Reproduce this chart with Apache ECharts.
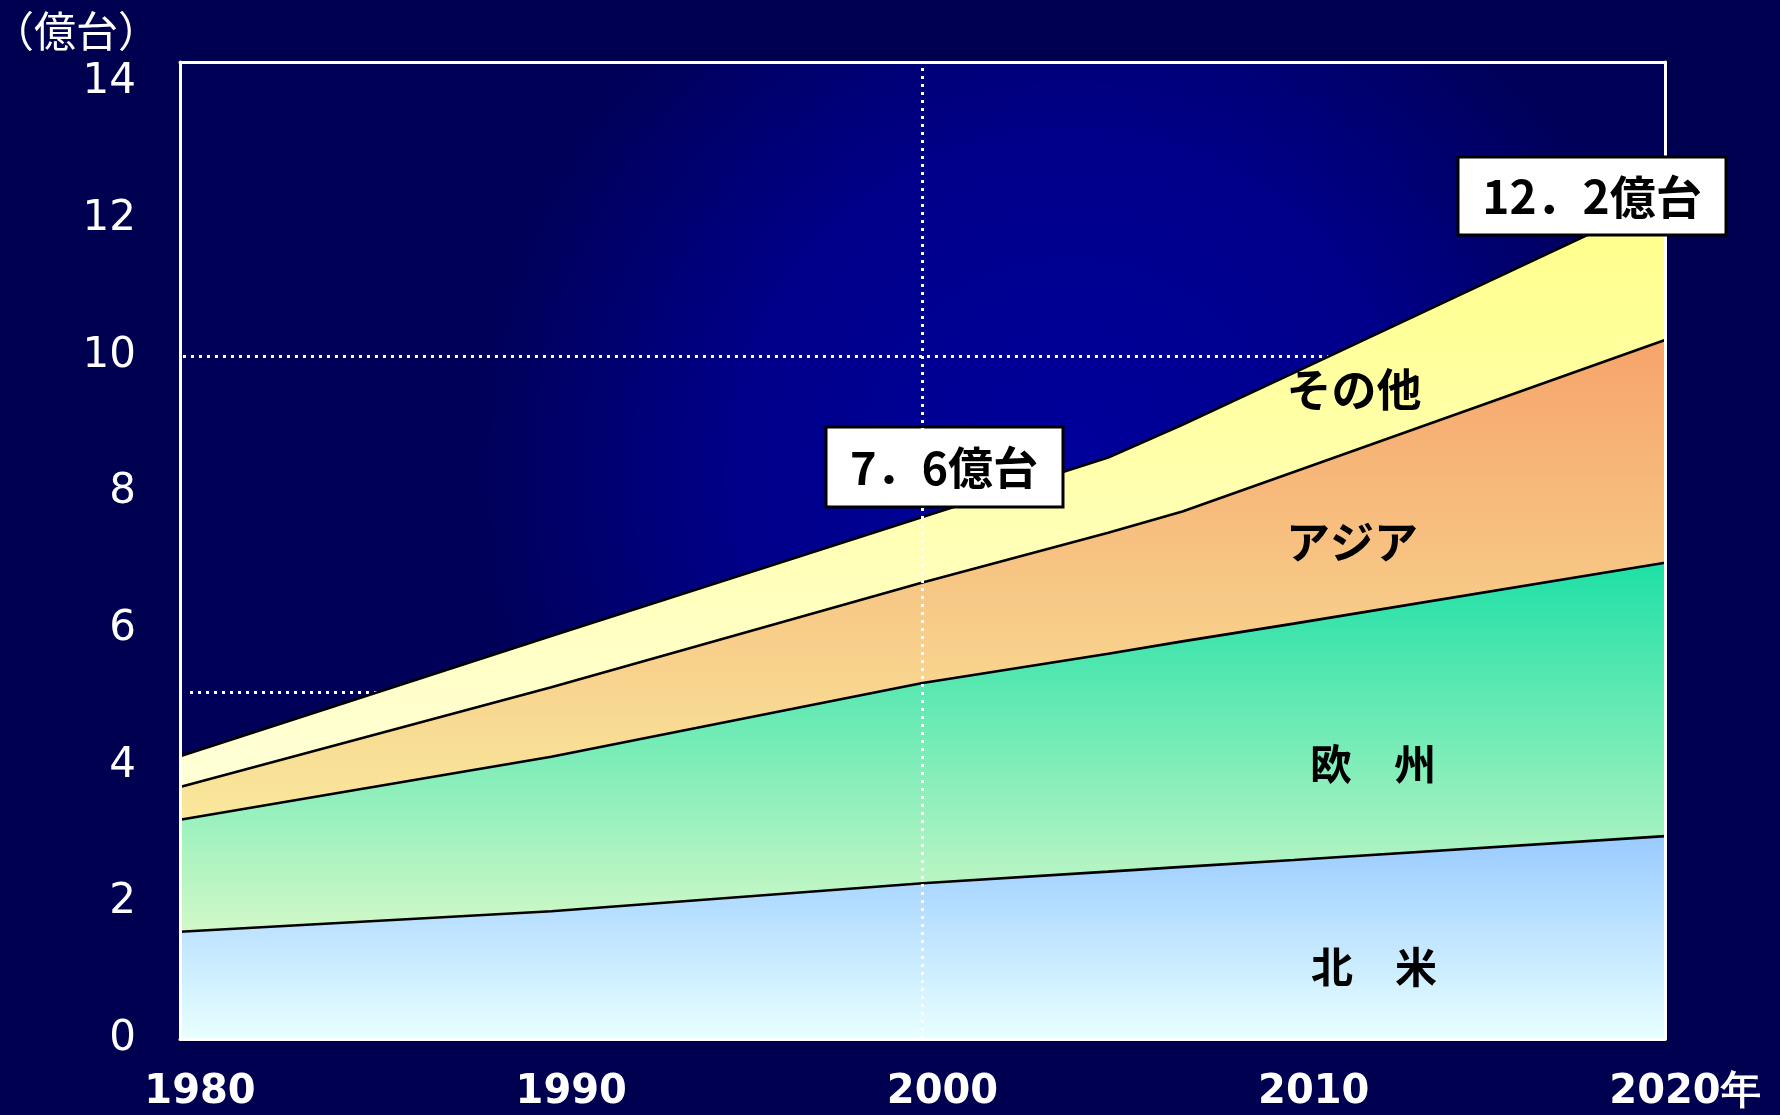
<!DOCTYPE html>
<html>
<head>
<meta charset="utf-8">
<style>
html,body{margin:0;padding:0;background:#000050;}
#chart{width:1780px;height:1115px;}
</style>
<script src="https://cdn.jsdelivr.net/npm/echarts@6/dist/echarts.min.js"></script>
</head>
<body>
<div id="chart"></div>
<script>
// ---- data (億台) ----
const years = [1980, 1990, 2000, 2005, 2007, 2010, 2020];
const northAmerica = [1.57, 1.87, 2.28, 2.45, 2.52, 2.62, 2.97];
const europe       = [1.64, 2.26, 2.93, 3.19, 3.30, 3.46, 4.00];
const asia         = [0.48, 1.02, 1.47, 1.77, 1.90, 2.22, 3.26];
const others       = [0.45, 0.75, 0.96, 1.10, 1.27, 1.45, 2.07];
const seriesNames  = ['北　米', '欧　州', 'アジア', 'その他'];
const refLevels = [10, 5.07];
const refYear = 2000;
const unitLabel = '（億台）';
const callouts = ['7．6億台', '12．2億台'];

const chart = echarts.init(document.getElementById('chart'));

// cumulative (stacked) totals built from the regional values
const regional = [northAmerica, europe, asia, others];
const cumulative = [];
regional.forEach((vals, k) => {
  cumulative.push(vals.map((v, i) => +(v + (k ? cumulative[k - 1][i] : 0)).toFixed(3)));
});
function pairs(vals) { return years.map((y, i) => [y, vals[i]]); }

function grad(top, bottom, stop) {
  return new echarts.graphic.LinearGradient(0, 0, 0, 1, [
    { offset: 0, color: top }, { offset: stop, color: bottom }, { offset: 1, color: bottom }
  ]);
}
const fills = [
  grad('#99CBFF', '#E8FFFF', 1),
  grad('#1EE0A6', '#D2F8C8', 0.775),
  grad('#F6A46C', '#F9E89C', 0.687),
  grad('#FFFF88', '#FFFFD8', 0.70)
];
const zs = [5, 4, 3, 2];

const areaSeries = cumulative.map((v, i) => ({
  name: seriesNames[i],
  type: 'line',
  data: pairs(v),
  symbol: 'none',
  z: zs[i],
  lineStyle: { color: '#000', width: 2.6 },
  areaStyle: { color: fills[i], opacity: 1, origin: 'start' },
  emphasis: { disabled: true },
  silent: true
}));

// vertical dotted line at 2000 (drawn on top)
areaSeries[0].markLine = {
  z: 8,
  symbol: 'none',
  silent: true,
  label: { show: false },
  lineStyle: { color: '#fff', width: 3, type: [3, 5] },
  data: [{ xAxis: refYear }]
};

// horizontal dotted lines (behind the areas)
const refSeries = {
  type: 'line',
  data: [],
  z: 1,
  markLine: {
    z: 1,
    symbol: 'none',
    silent: true,
    label: { show: false },
    lineStyle: { color: '#fff', width: 3, type: [3, 5] },
    data: refLevels.map((v, i) => [{ coord: [i === 0 ? 1980.08 : 1980.27, v] }, { coord: [2020, v] }])
  }
};

const borderLine = { show: true, onZero: false, lineStyle: { color: '#fff', width: 3 } };
const cjk = '"Noto Sans CJK JP"';

const option = {
  backgroundColor: '#000050',
  animation: false,
  grid: {
    left: 180, right: 115, top: 62, bottom: 76,
    outerBoundsMode: 'none',
    show: true,
    borderWidth: 0,
    backgroundColor: new echarts.graphic.RadialGradient(0.6, 0.42, 0.62, [
      { offset: 0, color: '#00009C' },
      { offset: 0.55, color: '#00008A' },
      { offset: 1, color: '#000058' }
    ]),
    shadowColor: '#000000',
    shadowBlur: 0,
    shadowOffsetX: 3,
    shadowOffsetY: 3
  },
  xAxis: [{
    type: 'value',
    min: 1980, max: 2020, interval: 10,
    z: 6,
    axisLine: borderLine,
    axisTick: { show: false },
    splitLine: { show: false },
    axisLabel: {
      color: '#fff',
      fontFamily: 'DejaVu Sans',
      fontWeight: 'bold',
      fontSize: 40,
      margin: 34,
      padding: [0, 0, 0, 40],
      formatter: v => (v === 2020 ? v + '年' : String(v))
    }
  }, {
    type: 'value',
    position: 'top',
    min: 1980, max: 2020,
    z: 6,
    axisLine: borderLine,
    axisTick: { show: false },
    axisLabel: { show: false },
    splitLine: { show: false }
  }],
  yAxis: [{
    type: 'value',
    min: 0, max: 14.3, interval: 2,
    z: 6,
    axisLine: borderLine,
    axisTick: { show: false },
    splitLine: { show: false },
    axisLabel: {
      color: '#fff',
      fontFamily: 'DejaVu Sans',
      fontWeight: 500,
      fontSize: 42,
      margin: 44,
      formatter: v => (v % 2 === 0 ? String(v) : '')
    }
  }, {
    type: 'value',
    position: 'right',
    min: 0, max: 14.3,
    z: 6,
    axisLine: borderLine,
    axisTick: { show: false },
    axisLabel: { show: false },
    splitLine: { show: false }
  }],
  series: [refSeries].concat(areaSeries),
  graphic: [
    { type: 'text', left: -8, top: 10, z: 7,
      style: { text: unitLabel, fill: '#fff', font: '42px ' + cjk } },
    { type: 'rect', z: 7, shape: { x: 826, y: 427, width: 237, height: 80 },
      style: { fill: '#fff', stroke: '#000', lineWidth: 3 } },
    { type: 'text', z: 7, x: 944, y: 468,
      style: { text: callouts[0], fill: '#000', font: 'bold 45px ' + cjk, align: 'center', verticalAlign: 'middle' } },
    { type: 'rect', z: 7, shape: { x: 1458, y: 157, width: 268, height: 78 },
      style: { fill: '#fff', stroke: '#000', lineWidth: 3 } },
    { type: 'text', z: 7, x: 1592, y: 197,
      style: { text: callouts[1], fill: '#000', font: 'bold 46px ' + cjk, align: 'center', verticalAlign: 'middle' } },
    { type: 'text', z: 7, x: 1354, y: 390,
      style: { text: seriesNames[3], fill: '#000', font: 'bold 45px ' + cjk, align: 'center', verticalAlign: 'middle' } },
    { type: 'text', z: 7, x: 1352, y: 542,
      style: { text: seriesNames[2], fill: '#000', font: 'bold 44px ' + cjk, align: 'center', verticalAlign: 'middle' } },
    { type: 'text', z: 7, x: 1373, y: 764,
      style: { text: seriesNames[1], fill: '#000', font: 'bold 42px ' + cjk, align: 'center', verticalAlign: 'middle' } },
    { type: 'text', z: 7, x: 1374, y: 967,
      style: { text: seriesNames[0], fill: '#000', font: 'bold 42px ' + cjk, align: 'center', verticalAlign: 'middle' } }
  ]
};
chart.setOption(option);
</script>
</body>
</html>
